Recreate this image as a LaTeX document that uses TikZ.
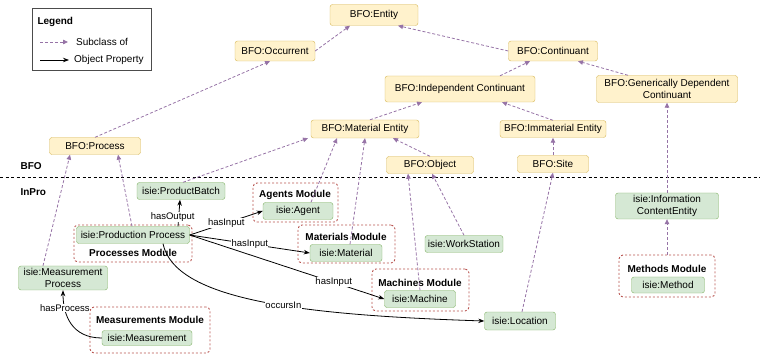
\documentclass[tikz,border=0pt]{standalone}
\usepackage{fontspec}
\setmainfont{Liberation Sans}
\usetikzlibrary{arrows.meta}
\definecolor{bfofill}{HTML}{FFF2CC}
\definecolor{bfoline}{HTML}{D6B656}
\definecolor{isiefill}{HTML}{D5E8D4}
\definecolor{isieline}{HTML}{82B366}
\definecolor{modline}{HTML}{B85450}
\definecolor{subline}{HTML}{9673A6}

\begin{document}
\begin{tikzpicture}[x=1pt, y=-1pt, font=\fontsize{10}{12}\selectfont,
  bfo/.style={draw=bfoline, fill=bfofill, rounded corners=2.5pt, inner sep=0pt, minimum height=17, align=center},
  isie/.style={draw=isieline, fill=isiefill, rounded corners=2.5pt, inner sep=0pt, minimum height=17, align=center},
  module/.style={draw=modline, dash pattern=on 2pt off 2pt, line width=0.9pt, rounded corners=4pt, inner sep=0pt},
  modtitle/.style={font=\fontsize{10}{12}\selectfont\bfseries},
  subcls/.style={draw=subline, line width=0.8pt, dash pattern=on 3pt off 2pt, -{Triangle[length=5pt,width=4.5pt]}},
  objprop/.style={draw=black, line width=0.8pt, -{Stealth[length=6pt,width=4.5pt]}},
  lbl/.style={fill=white, inner sep=0.5pt, font=\fontsize{9.5}{11}\selectfont}]
\useasboundingbox (0,0) rectangle (760,355);

% legend
\node[draw=black!70, line width=1pt, minimum width=119, minimum height=62, inner sep=0pt] (legend) at (91.5,40) {};
\node[anchor=west, modtitle] (legtitle) at (34,22) {Legend};
\coordinate (sub0) at (40,42); \coordinate (sub1) at (68,42);
\coordinate (obj0) at (40,60); \coordinate (obj1) at (69,60);
\draw[subcls] (sub0) -- (sub1);
\draw[objprop] (obj0) -- (obj1);
\node[anchor=west, inner sep=0pt] (subtxt) at (76,42) {Subclass of};
\node[anchor=west, inner sep=0pt] (objtxt) at (74,60) {Object Property};

% layers
\node[anchor=west, modtitle] (bfolayer) at (17,166) {BFO};
\node[anchor=west, modtitle] (inprolayer) at (17,192) {InPro};
\coordinate (sepl) at (0,178); \coordinate (sepr) at (760,178);
\draw[dash pattern=on 3pt off 2.5pt, line width=1pt] (sepl) -- (sepr);

% BFO classes
\node[bfo, minimum width=88, minimum height=21] (entity) at (374,15) {BFO:Entity};
\node[bfo, minimum width=80, minimum height=20] (occurrent) at (275,51) {BFO:Occurrent};
\node[bfo, minimum width=89, minimum height=20] (continuant) at (553,51) {BFO:Continuant};
\node[bfo, minimum width=150, minimum height=26] (indep) at (460,89) {BFO:Independent Continuant};
\node[bfo, minimum width=141, minimum height=27] (gdc) at (667,89) {BFO:Generically Dependent\\Continuant};
\node[bfo, minimum width=108, minimum height=18] (matent) at (365,129) {BFO:Material Entity};
\node[bfo, minimum width=106] (immat) at (553,129) {BFO:Immaterial Entity};
\node[bfo, minimum width=87] (object) at (430,165) {BFO:Object};
\node[bfo, minimum width=71] (site) at (553,164) {BFO:Site};
\node[bfo, minimum width=91] (process) at (95,146) {BFO:Process};

% modules
\node[module, minimum width=85, minimum height=39] (agentsmod) at (295.5,202.5) {};
\node[module, minimum width=118, minimum height=37] (procmod) at (133,243.5) {};
\node[module, minimum width=97, minimum height=38] (matmod) at (346.5,244) {};
\node[module, minimum width=97, minimum height=42] (machmod) at (420.5,290) {};
\node[module, minimum width=96, minimum height=42] (methmod) at (667,276) {};
\node[module, minimum width=120, minimum height=46] (measmod) at (150,330) {};
\node[modtitle] (agentsttl) at (295,195) {Agents Module};
\node[modtitle] (procttl) at (133,253) {Processes Module};
\node[modtitle] (matttl) at (346,237) {Materials Module};
\node[modtitle] (machttl) at (420,283) {Machines Module};
\node[modtitle] (methttl) at (667,269) {Methods Module};
\node[modtitle] (measttl) at (150,320) {Measurements Module};

% InPro classes
\node[isie, minimum width=88] (batch) at (181,191) {isie:ProductBatch};
\node[isie, minimum width=70] (agent) at (298,211) {isie:Agent};
\node[isie, minimum width=113] (prodproc) at (133,235) {isie:Production Process};
\node[isie, minimum width=72] (material) at (346,253) {isie:Material};
\node[isie, minimum width=78] (workst) at (464,244) {isie:WorkStation};
\node[isie, minimum width=71] (machine) at (420,299) {isie:Machine};
\node[isie, minimum width=71, minimum height=18] (location) at (520,321) {isie:Location};
\node[isie, minimum width=103, minimum height=26] (infoent) at (667,206) {isie:Information\\ContentEntity};
\node[isie, minimum width=73, minimum height=16] (method) at (668,285) {isie:Method};
\node[isie, minimum width=89, minimum height=24] (measproc) at (63,278) {isie:Measurement\\Process};
\node[isie, minimum width=90, minimum height=15] (measure) at (147,338) {isie:Measurement};

% subclass of
\draw[subcls] (occurrent.east) -- ([xshift=-24]entity.south);
\draw[subcls] (continuant.west) -- ([xshift=24]entity.south);
\draw[subcls] (process.north) -- ([xshift=-5]occurrent.south);
\draw[subcls] ([xshift=40]indep.north) -- ([xshift=-23]continuant.south);
\draw[subcls] ([xshift=-39]gdc.north) -- ([xshift=25]continuant.south);
\draw[subcls] ([xshift=5]matent.north) -- ([xshift=-38]indep.south);
\draw[subcls] (immat.north) -- ([xshift=42]indep.south);
\draw[subcls] (site.north) -- (immat.south);
\draw[subcls] (object.north) -- ([xshift=28]matent.south);
\draw[subcls] ([xshift=2]batch.north) -- ([xshift=-57]matent.south);
\draw[subcls] ([xshift=13]agent.north) -- ([xshift=-28]matent.south);
\draw[subcls] ([xshift=4]material.north) -- (matent.south);
\draw[subcls] (machine.north) -- ([xshift=-22]object.south);
\draw[subcls] (workst.north) -- ([xshift=2]object.south);
\draw[subcls] ([xshift=2]location.north) -- (site.south);
\draw[subcls] (methmod.north) -- (infoent.south);
\draw[subcls] (infoent.north) -- (gdc.south);
\draw[subcls] ([xshift=-20]measproc.north) -- ([xshift=-25]process.south);
\draw[subcls] ([xshift=-1]prodproc.north) -- ([xshift=23]process.south);

% object properties
\draw[objprop] ([xshift=45]prodproc.north) -- node[lbl, pos=0.35, xshift=-6]{hasOutput} ([xshift=-1]batch.south);
\draw[objprop] (prodproc.east) -- node[lbl]{hasInput} (agent.west);
\draw[objprop] (prodproc.east) -- node[lbl]{hasInput} (material.west);
\draw[objprop] (prodproc.east) -- node[lbl, pos=0.74]{hasInput} (machine.west);
\draw[objprop] ([xshift=30]prodproc.south) .. controls +(12,56) and +(-185,-6) .. node[lbl, pos=0.57]{occursIn} (location.west);
\draw[objprop] (measure.west) .. controls +(-30,0) and +(0,25) .. node[lbl, pos=0.75]{hasProcess} (measproc.south);
\end{tikzpicture}
\end{document}
